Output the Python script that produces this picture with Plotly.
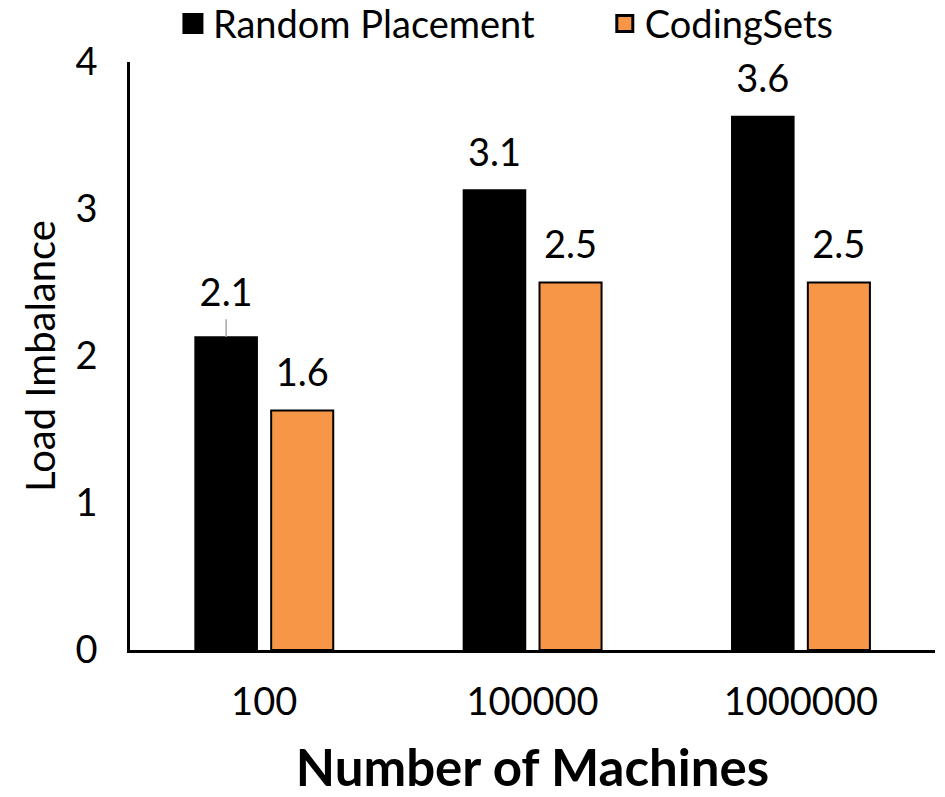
import plotly.graph_objects as go

# Data
machines = ["100", "100000", "1000000"]
random_placement = [2.13, 3.13, 3.63]
coding_sets = [1.63, 2.5, 2.5]
random_placement_err = [0.12, 0.0, 0.0]

# Label offsets above bars (invisible marker sizes that push the text up)
rp_label_pad = [32, 22, 22]
cs_label_pad = [22, 22, 22]

BLACK = "#000000"
ORANGE = "#F79646"
FONT = "Lato"

fig = go.Figure()

fig.add_bar(
    x=machines, y=random_placement, name="Random Placement",
    marker=dict(color=BLACK, line=dict(color=BLACK, width=1.5)),
    offsetgroup="rp", alignmentgroup="g",
    error_y=dict(type="data", symmetric=False, array=random_placement_err,
                 arrayminus=[0, 0, 0], color="#a6a6a6", thickness=1.5, width=0),
    showlegend=False, hoverinfo="skip",
)
fig.add_bar(
    x=machines, y=coding_sets, name="CodingSets",
    marker=dict(color=ORANGE, line=dict(color=BLACK, width=2)),
    offsetgroup="cs", alignmentgroup="g",
    showlegend=False, hoverinfo="skip",
)

# Value labels
for vals, grp, pad in [(random_placement, "rp", rp_label_pad),
                       (coding_sets, "cs", cs_label_pad)]:
    fig.add_scatter(
        x=machines, y=vals, mode="markers+text",
        text=[f"{v:.1f}" for v in vals], textposition="top center",
        textfont=dict(family=FONT, size=38, color=BLACK),
        marker=dict(size=pad, opacity=0),
        offsetgroup=grp, alignmentgroup="g",
        cliponaxis=False, showlegend=False, hoverinfo="skip",
    )

# Legend keys, one legend box per series
fig.add_scatter(x=[None], y=[None], mode="markers", name="Random Placement",
                marker=dict(symbol="square", size=16, color=BLACK,
                            line=dict(color=BLACK, width=5)),
                legend="legend")
fig.add_scatter(x=[None], y=[None], mode="markers", name="CodingSets",
                marker=dict(symbol="square", size=16, color=ORANGE,
                            line=dict(color=BLACK, width=3)),
                legend="legend2")

legend_style = dict(
    orientation="h", xref="container", yref="container",
    y=0.970, xanchor="left", yanchor="middle",
    font=dict(family=FONT, size=38, color=BLACK),
    itemsizing="trace", bgcolor="rgba(0,0,0,0)",
)

fig.update_layout(
    width=945, height=797,
    margin=dict(l=130, r=10, t=62, b=147, autoexpand=False),
    paper_bgcolor="white", plot_bgcolor="white",
    font=dict(family=FONT, color=BLACK),
    barmode="group", bargap=0.433, bargroupgap=0.184,
    scattermode="group",
    legend=dict(legend_style, x=0.183),
    legend2=dict(legend_style, x=0.640),
    xaxis=dict(
        type="category", showline=True, linecolor=BLACK, linewidth=2.5,
        ticks="", showgrid=False, zeroline=False,
        tickfont=dict(family=FONT, size=38),
        ticklabelstandoff=17,
        title=dict(text="<b>Number of Machines</b>",
                   font=dict(family=FONT, size=51), standoff=49),
    ),
    yaxis=dict(
        range=[0, 4], dtick=1, showline=True, linecolor=BLACK, linewidth=2.5,
        ticks="", showgrid=False, zeroline=False,
        tickfont=dict(family=FONT, size=38),
        ticklabelstandoff=22,
        title=dict(text="Load Imbalance", font=dict(family=FONT, size=40),
                   standoff=8),
    ),
)

fig.write_html("out.html")
